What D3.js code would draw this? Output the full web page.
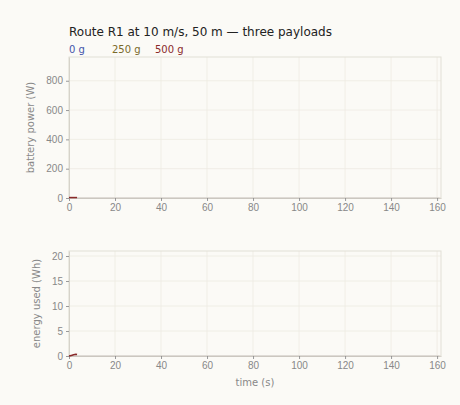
<!DOCTYPE html>
<html>
<head>
<meta charset="utf-8">
<script src="https://cdn.jsdelivr.net/npm/d3@7"></script>
<style>
  body { margin: 0; background: #fbfaf6; }
  svg { font-family: "DejaVu Sans", sans-serif; }
</style>
</head>
<body>
<div id="chart"></div>
<script>
// series
const payloads = ["0 g", "250 g", "500 g"];
const colors = ["#4455aa", "#7a6a2a", "#8a2a2a"];

// time (s)
const time0 = [0, 40, 80, 120, 161];
const time250 = [0, 40, 80, 120, 161];
const time500 = [0, 1, 2, 3, 3.5];

// battery power (W)
const power0 = [0, 0, 0, 0, 0];
const power250 = [0, 0, 0, 0, 0];
const power500 = [3, 3, 3, 3, 3];

// energy used (Wh)
const energy0 = [0, 0, 0, 0, 0];
const energy250 = [0, 0, 0, 0, 0];
const energy500 = [0, 0.12, 0.25, 0.35, 0.3];

const xTicks = [0, 20, 40, 60, 80, 100, 120, 140, 160];
const powerTicks = [0, 200, 400, 600, 800];
const energyTicks = [0, 5, 10, 15, 20];

const width = 460, height = 405;
const marginLeft = 69, marginRight = 19;

const svg = d3.select("#chart").append("svg")
    .attr("width", width)
    .attr("height", height);

svg.append("rect").attr("width", width).attr("height", height).attr("fill", "#fbfaf6");

svg.append("text")
    .attr("x", marginLeft).attr("y", 36)
    .attr("font-size", 12).attr("fill", "#222")
    .text("Route R1 at 10 m/s, 50 m \u2014 three payloads");

const legendX = [69, 112, 155];
payloads.forEach((p, i) => {
  svg.append("text")
      .attr("x", legendX[i]).attr("y", 53)
      .attr("font-size", 10).attr("fill", colors[i])
      .text(p);
});

const x = d3.scaleLinear().domain([0, 161.7]).range([marginLeft, width - marginRight]);

function panel(top, bottom, yMax, ticks, label, labelX, series) {
  const y = d3.scaleLinear().domain([0, yMax]).range([bottom, top]);
  const g = svg.append("g");

  // grid
  g.append("g").selectAll("line").data(xTicks).join("line")
      .attr("x1", d => x(d)).attr("x2", d => x(d))
      .attr("y1", top).attr("y2", bottom)
      .attr("stroke", "#eeebe2").attr("stroke-width", 0.8);
  g.append("g").selectAll("line").data(ticks).join("line")
      .attr("x1", x.range()[0]).attr("x2", x.range()[1])
      .attr("y1", d => y(d)).attr("y2", d => y(d))
      .attr("stroke", "#eeebe2").attr("stroke-width", 0.8);

  // frame
  g.append("rect")
      .attr("x", x.range()[0]).attr("y", top)
      .attr("width", x.range()[1] - x.range()[0]).attr("height", bottom - top)
      .attr("fill", "none").attr("stroke", "#e2dfd6");

  const xAxis = g.append("g")
      .attr("transform", `translate(0,${bottom})`)
      .call(d3.axisBottom(x).tickValues(xTicks).tickSize(3).tickSizeOuter(0));
  const yAxis = g.append("g")
      .attr("transform", `translate(${marginLeft},0)`)
      .call(d3.axisLeft(y).tickValues(ticks).tickSize(3).tickSizeOuter(0));
  [xAxis, yAxis].forEach(a => {
    a.selectAll("path").attr("stroke", "#d6d3ca");
    a.selectAll("line").attr("stroke", "#999");
    a.selectAll("text").attr("fill", "#888").attr("font-size", 10);
  });

  g.append("text")
      .attr("transform", `translate(${labelX},${(top + bottom) / 2}) rotate(-90)`)
      .attr("text-anchor", "middle")
      .attr("font-size", 10).attr("fill", "#888")
      .text(label);

  const line = d3.line().x(d => x(d[0])).y(d => y(d[1]));
  series.forEach((s, i) => {
    g.append("path")
        .datum(d3.zip(s.t, s.v))
        .attr("fill", "none")
        .attr("stroke", colors[i])
        .attr("stroke-opacity", i === 2 ? 1 : 0.06)
        .attr("stroke-width", 1.5)
        .attr("d", line);
  });
  return y;
}

panel(57, 198, 962, powerTicks, "battery power (W)", 34, [
  { t: time0, v: power0 },
  { t: time250, v: power250 },
  { t: time500, v: power500 }
]);

panel(251, 356, 21, energyTicks, "energy used (Wh)", 40, [
  { t: time0, v: energy0 },
  { t: time250, v: energy250 },
  { t: time500, v: energy500 }
]);

svg.append("text")
    .attr("x", (x.range()[0] + x.range()[1]) / 2).attr("y", 386)
    .attr("text-anchor", "middle")
    .attr("font-size", 10).attr("fill", "#888")
    .text("time (s)");
</script>
</body>
</html>
